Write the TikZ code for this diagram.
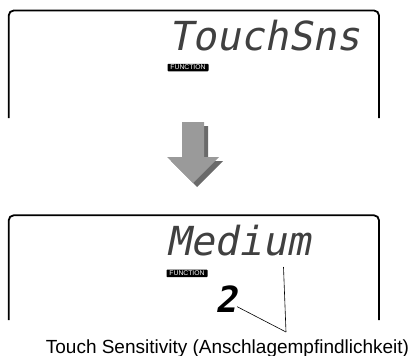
\documentclass[tikz,border=0pt]{standalone}
\usepackage{fontspec}
\setmainfont{Liberation Sans}
\newfontfamily\lcdfont[FakeSlant=0.2]{DejaVu Sans Mono}
\definecolor{arrowlight}{HTML}{9A9A9A}
\definecolor{arrowdark}{HTML}{6A6A6A}
\definecolor{lcdink}{HTML}{404040}
\begin{document}
\begin{tikzpicture}[x=1pt,y=1pt,
  lcdframe/.style={line width=1.8pt,rounded corners=5pt},
  lcdtext/.style={inner sep=0pt,anchor=base west,text=lcdink,font=\lcdfont\fontsize{40}{40}\selectfont},
  funclabel/.style={fill=black,rounded corners=0.8pt,inner sep=0pt,minimum width=41pt,minimum height=7.5pt,
    text=white,font=\fontsize{6.8}{7}\selectfont},
  leader/.style={line width=0.6pt}]
\useasboundingbox (0,0) rectangle (413,-356);
% top display
\draw[lcdframe] (8.7,-118) -- (8.7,-10.5) -- (379,-10.5) -- (379,-118);
\node[lcdtext] (top) at (168,-50) {TouchSns};
\node[funclabel] (f1) at (188,-67.5) {FUNCTION};
% arrow with shadow
\fill[arrowdark] (186,-126) -- (208,-126) -- (208,-161) -- (223,-161) -- (197,-187) -- (171,-161) -- (186,-161) -- cycle;
\fill[arrowlight] (182,-122) -- (204,-122) -- (204,-157) -- (219,-157) -- (193,-183) -- (167,-157) -- (182,-157) -- cycle;
% bottom display
\draw[lcdframe] (8.7,-320) -- (8.7,-215.3) -- (379,-215.3) -- (379,-320);
\node[lcdtext] (med) at (166,-255) {Medium};
\node[funclabel] (f2) at (187,-273.3) {FUNCTION};
\node[inner sep=0pt,anchor=base west,text=black,font=\lcdfont\bfseries\fontsize{36}{36}\selectfont] (val) at (215,-312) {2};
\coordinate (tip) at (286,-332);
\coordinate (medfoot) at (283.5,-267);
\draw[leader] (val.east) ++(0,-8) coordinate (valend) -- (tip);
\draw[leader] (medfoot) -- (tip);
\node[inner sep=0pt,anchor=base,font=\fontsize{19}{22}\selectfont] (cap) at (227.5,-353) {Touch Sensitivity (Anschlagempfindlichkeit)};
\end{tikzpicture}
\end{document}
